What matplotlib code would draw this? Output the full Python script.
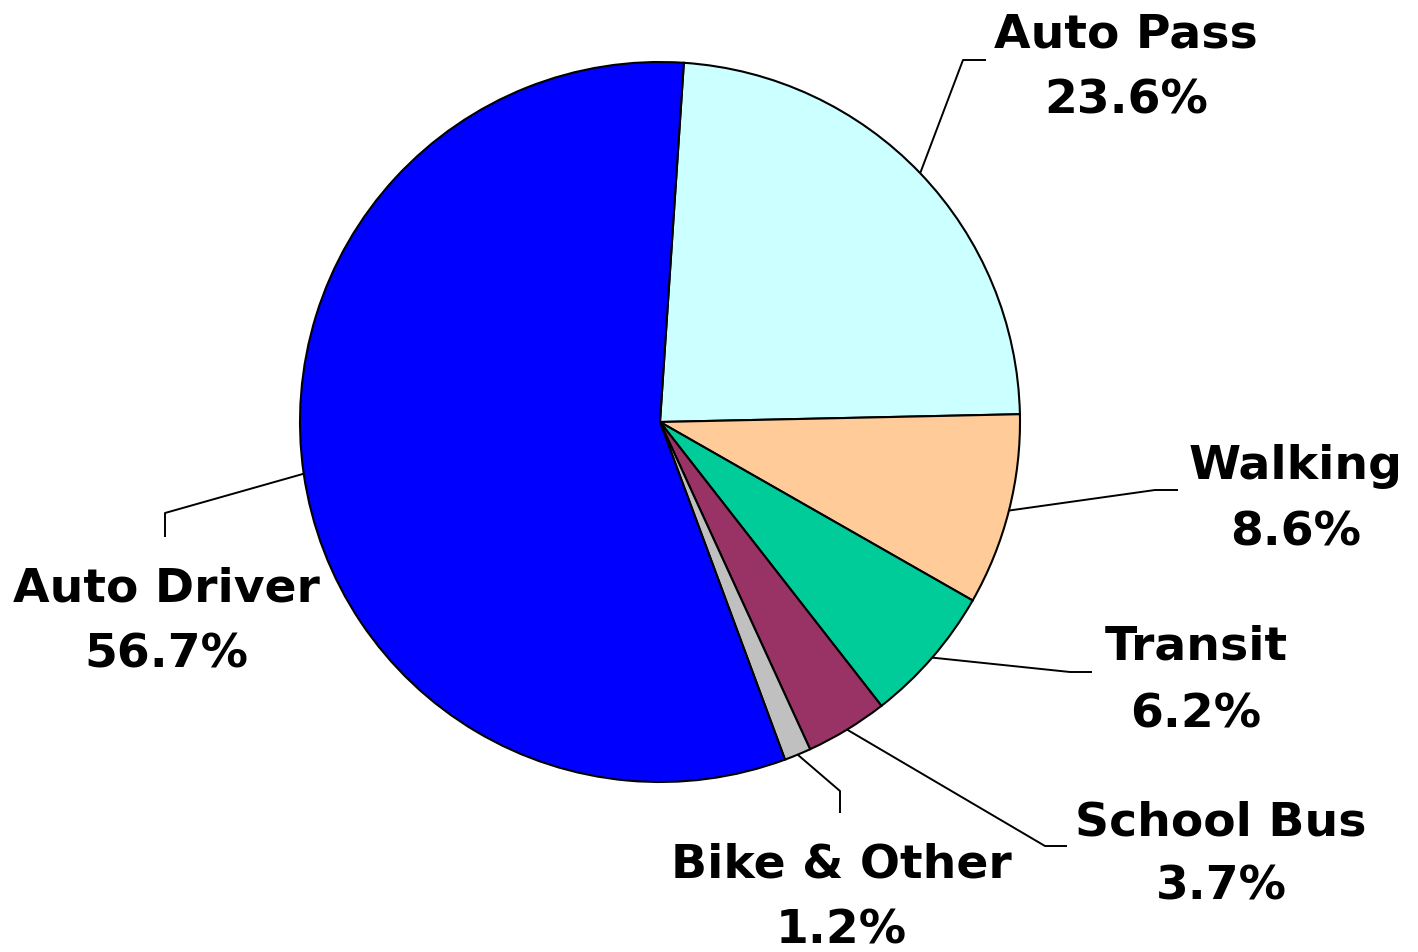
import matplotlib
matplotlib.use("Agg")
import matplotlib.pyplot as plt
import numpy as np

W, H = 1418, 952

# Mode share data
modes = ["Auto Pass", "Walking", "Transit", "School Bus", "Bike & Other", "Auto Driver"]
shares = [23.6, 8.6, 6.2, 3.7, 1.2, 56.7]
colors = ["#CCFFFF", "#FFCC99", "#00CC99", "#993366", "#C0C0C0", "#0000FF"]

# label layout (pixel coords, y from top): text centre x, name baseline, pct baseline
label_x = [1126, 1296, 1196, 1221, 841, 166]
name_base = [48, 479, 660, 835, 878, 602]
pct_base = [113, 545, 727, 900, 944, 668]
# leader line: elbow point and end point
elbow = [(963, 60), (1155, 490), (1070, 672), (1045, 846), (840, 791), (165, 513)]
line_end = [(986, 60), (1178, 490), (1092, 672), (1067, 846), (840, 813), (165, 537)]

cx, cy, r = 660, 422, 360


def fy(y):
    return H - y


fig = plt.figure(figsize=(W / 100, H / 100), dpi=100)
ax = fig.add_axes([0, 0, 1, 1])

wedges, _ = ax.pie(
    shares,
    colors=colors,
    startangle=86.2,
    counterclock=False,
    center=(cx, fy(cy)),
    radius=r,
    wedgeprops=dict(edgecolor="black", linewidth=1.5),
)

font = dict(family="DejaVu Sans", fontweight="bold", fontsize=34, ha="center", va="baseline")

for i, w in enumerate(wedges):
    mid = np.deg2rad((w.theta1 + w.theta2) / 2)
    ax0 = cx + r * np.cos(mid)
    ay0 = fy(cy) + r * np.sin(mid)
    xs = [ax0, elbow[i][0], line_end[i][0]]
    ys = [ay0, fy(elbow[i][1]), fy(line_end[i][1])]
    ax.plot(xs, ys, color="black", linewidth=1.4, solid_capstyle="butt")
    ax.text(label_x[i], fy(name_base[i]), modes[i], **font)
    ax.text(label_x[i], fy(pct_base[i]), f"{shares[i]:.1f}%", **font)

ax.set_xlim(0, W)
ax.set_ylim(0, H)
ax.set_aspect("equal")
ax.axis("off")

fig.savefig("out.png", dpi=100, facecolor="white")
